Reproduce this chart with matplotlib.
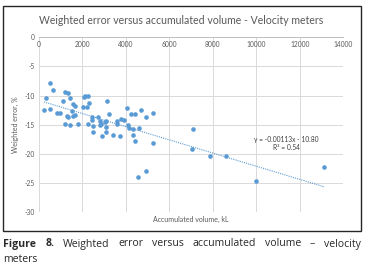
import matplotlib
matplotlib.use("Agg")
import matplotlib.pyplot as plt
import numpy as np
from matplotlib.patches import Rectangle

# ---- data ----
volume_kl = [243, 320, 519, 519, 643, 827, 979, 1131, 1209, 1223, 1287, 1347, 1347,
             1439, 1439, 1517, 1563, 1563, 1668, 1668, 1821, 2022, 2082, 2143, 2280,
             2234, 2326, 2280, 2436, 2436, 2510, 2482, 2739, 2817, 2817, 2923, 3047,
             3093, 3093, 3124, 3231, 3401, 3585, 3612, 3737, 3769, 3920, 4044, 4118,
             4164, 4242, 4348, 4348, 4426, 4440, 4578, 4624, 4688, 4918, 4932, 5239,
             5239, 7032, 7106, 7873, 8609, 9987, 13113, 2863, 3093]
weighted_error = [-12.5, -10.4, -7.9, -12.3, -9.0, -13.0, -12.9, -11.0, -14.8, -9.3,
                  -13.5, -9.6, -13.7, -10.4, -15.0, -12.6, -11.4, -13.5, -11.8, -13.3,
                  -14.8, -12.0, -10.2, -10.0, -10.0, -12.0, -11.3, -14.9, -13.7, -14.2,
                  -15.2, -16.3, -13.6, -14.3, -15.0, -17.0, -14.6, -15.3, -16.3, -10.9,
                  -13.1, -16.8, -14.8, -14.3, -17.0, -14.0, -14.2, -12.2, -15.0, -15.5,
                  -13.2, -15.8, -16.8, -13.2, -17.8, -23.9, -15.6, -12.5, -22.9, -13.7,
                  -12.9, -18.2, -19.2, -15.8, -20.4, -20.3, -24.6, -22.3, -14.9, -14.4]
trend_slope = -0.00113
trend_intercept = -10.80
r_squared = 0.54
x_ticks = [0, 2000, 4000, 6000, 8000, 10000, 12000, 14000]
y_ticks = [0, -5, -10, -15, -20, -25, -30]

title = "Weighted error versus accumulated volume - Velocity meters"
xlabel = "Accumulated volume, kL"
ylabel = "Weighted error, %"
caption_words = ["Figure", "8.", "Weighted", "error", "versus", "accumulated",
                 "volume", "\u2013", "velocity"]
caption_line2 = "meters"

W, H = 368, 275
fig = plt.figure(figsize=(W / 100, H / 100), dpi=100)
fig.patch.set_facecolor("white")

def fx(px):
    return px / W

def fy(py):
    return 1 - py / H

# chart border
fig.patches.append(Rectangle((fx(3), fy(231)), fx(361) - fx(3), fy(6) - fy(231),
                             transform=fig.transFigure, fill=False,
                             edgecolor="#262626", linewidth=1.0))

ax = fig.add_axes([fx(38.7), fy(212.3), fx(343.3) - fx(38.7), fy(37.3) - fy(212.3)])
ax.set_xlim(0, 14000)
ax.set_ylim(-30, 0)
ax.set_xticks(x_ticks)
ax.set_yticks(y_ticks)
ax.set_xticklabels([str(t) for t in x_ticks])
ax.set_yticklabels([str(t) for t in y_ticks])
ax.grid(True, color="#d9d9d9", linewidth=0.7)
ax.set_axisbelow(True)
for s in ["left", "right", "top"]:
    ax.spines[s].set_visible(False)
ax.spines["bottom"].set_position(("data", 0))
ax.spines["bottom"].set_color("#bfbfbf")
ax.spines["bottom"].set_linewidth(0.7)
ax.tick_params(axis="both", length=0, labelsize=4.8, labelcolor="#595959",
               pad=3)
for lab in ax.get_xticklabels() + ax.get_yticklabels():
    lab.set_family("Lato")

ax.scatter(volume_kl, weighted_error, s=11, color="#5B9BD5", zorder=3,
           linewidths=0)
xt = np.array([min(volume_kl), max(volume_kl)])
ax.plot(xt, trend_slope * xt + trend_intercept, color="#5B9BD5",
        linestyle=(0, (1, 1)), linewidth=0.8, zorder=2)

ax.text(11400, -17.5, "y = %.5fx - %.2f" % (trend_slope, -trend_intercept),
        ha="center", va="center", fontsize=4.8, color="#404040", family="Lato")
ax.text(11400, -18.95, "R\u00b2 = %.2f" % r_squared,
        ha="center", va="center", fontsize=4.8, color="#404040", family="Lato")

fig.text(fx(181), fy(21), title, ha="center", va="center", fontsize=7.6,
         color="#595959", family="Lato")
fig.text(fx(191), fy(219), xlabel, ha="center", va="center", fontsize=5,
         color="#595959", family="Lato")
fig.text(fx(15), fy(125), ylabel, ha="center", va="center", fontsize=5,
         color="#595959", family="Lato", rotation=90)

# justified caption
renderer = fig.canvas.get_renderer()
cap_size = 7.6
texts = []
for i, w in enumerate(caption_words):
    t = fig.text(0, fy(246.5), w, ha="left", va="baseline", fontsize=cap_size,
                 family="Open Sans", color="#2a2a2a",
                 weight="bold" if i < 2 else "normal")
    texts.append(t)
widths = [t.get_window_extent(renderer).width for t in texts]
left, right = 3.5, 361.0
gap = (right - left - sum(widths)) / (len(texts) - 1)
xpos = left
for t, wd in zip(texts, widths):
    t.set_x(xpos / W)
    xpos += wd + gap
fig.text(fx(3.5), fy(262.5), caption_line2, ha="left", va="baseline",
         fontsize=cap_size, family="Open Sans", color="#2a2a2a")

fig.savefig("out.png", dpi=100)
